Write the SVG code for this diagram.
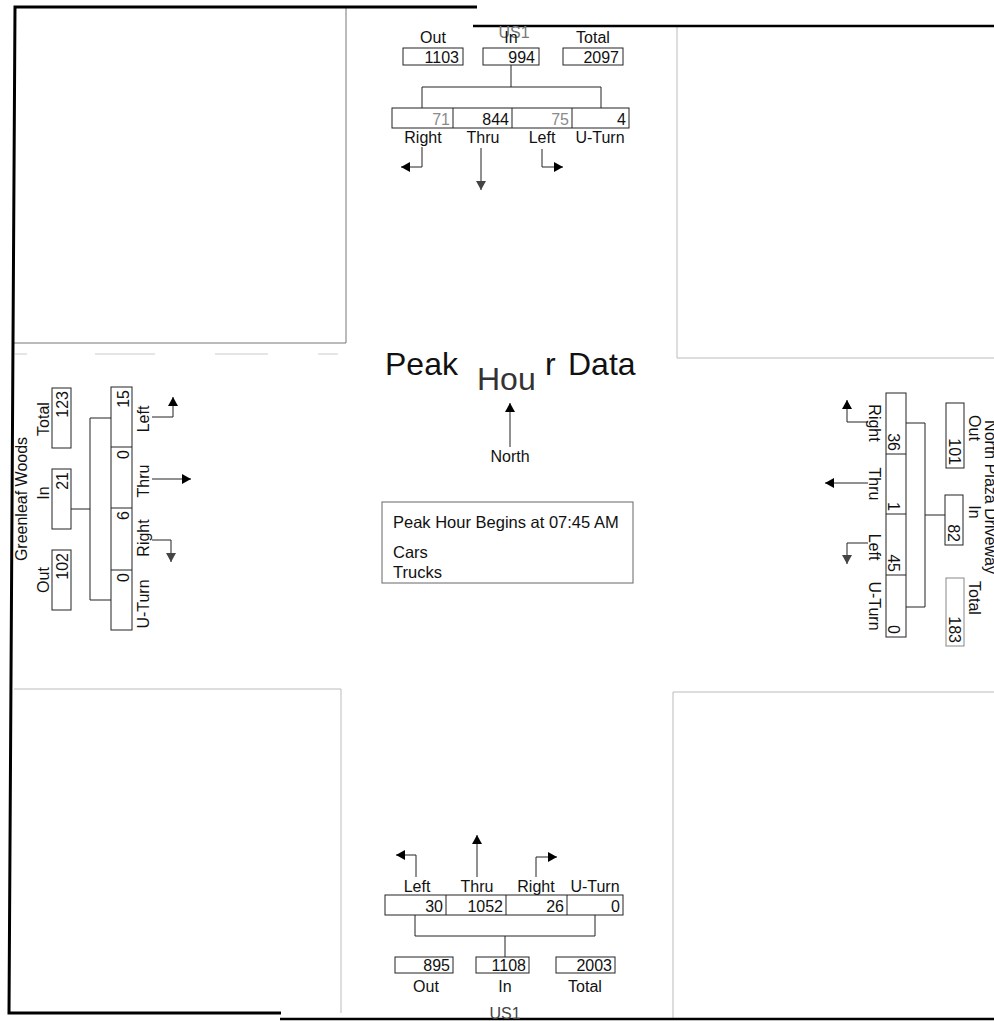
<svg xmlns="http://www.w3.org/2000/svg" width="994" height="1021" viewBox="0 0 994 1021">
<style>
.t{font-family:"Liberation Sans",Arial,Helvetica,sans-serif;font-size:16px;fill:#111}
.c{text-anchor:middle}
.e{text-anchor:end}
.g{fill:#8a8a8a}
.bx{fill:#fff;stroke:#222;stroke-width:1}
.ln{fill:none;stroke:#222;stroke-width:1}
.q{fill:none;stroke:#bbb;stroke-width:1}
.thick{fill:none;stroke:#000;stroke-width:3}
.big{font-size:32px}
</style>
<defs>
<marker id="ah" viewBox="0 0 9 10" refX="9" refY="5" markerWidth="9" markerHeight="10" markerUnits="userSpaceOnUse" orient="auto"><path d="M0,0 L9,5 L0,10 z" fill="#000"/></marker>
<marker id="ahg" viewBox="0 0 9 10" refX="9" refY="5" markerWidth="9" markerHeight="10" markerUnits="userSpaceOnUse" orient="auto"><path d="M0,0 L9,5 L0,10 z" fill="#444"/></marker>
</defs>
<rect width="994" height="1021" fill="#fff"/>

<g id="frame">
<path class="q" d="M346,7 V343 H14" style="stroke:#777"/>
<path class="q" d="M677,26 V358 H994"/>
<path class="q" d="M14,689 H341 V1013"/>
<path class="q" d="M994,692 H673 V1019"/>
<path class="q" d="M15,354 H27 M95,354 H155 M215,354 H268 M318,354 H338" style="stroke:#ccc"/>
<path class="thick" d="M477,7 H15 L9,1013 H281"/>
<path class="thick" d="M473,26 H994" style="stroke-width:2.5"/>
<path class="thick" d="M280,1019 H994" style="stroke-width:2.5"/>
</g>

<g id="north-approach">
<text class="t c g" x="514" y="38" style="fill:#777">US1</text>
<text class="t c" x="433" y="43">Out</text>
<text class="t c" x="511" y="43">In</text>
<text class="t c" x="593" y="43">Total</text>
<rect class="bx" x="403" y="48" width="60" height="17"/>
<rect class="bx" x="483" y="48" width="56" height="17"/>
<rect class="bx" x="563" y="48" width="60" height="17"/>
<text class="t e" x="459" y="63">1103</text>
<text class="t e" x="535" y="63">994</text>
<text class="t e" x="619" y="63">2097</text>
<rect class="bx" x="392" y="108" width="237" height="20"/>
<path class="ln" d="M453,108 V128 M512,108 V128 M572,108 V128"/>
<text class="t e g" x="450" y="125">71</text>
<text class="t e" x="509" y="125">844</text>
<text class="t e g" x="569" y="125">75</text>
<text class="t e" x="626" y="125">4</text>
<text class="t c" x="423" y="143">Right</text>
<text class="t c" x="483" y="143">Thru</text>
<text class="t c" x="542" y="143">Left</text>
<text class="t c" x="600" y="143">U-Turn</text>
</g>

<g id="west-approach">
<text class="t c" transform="translate(27,499) rotate(-90)">Greenleaf Woods</text>
<text class="t c" transform="translate(49,419) rotate(-90)">Total</text>
<text class="t c" transform="translate(49,493) rotate(-90)">In</text>
<text class="t c" transform="translate(49,580) rotate(-90)">Out</text>
<rect class="bx" x="52" y="388" width="19" height="60"/>
<rect class="bx" x="52" y="469" width="19" height="60"/>
<rect class="bx" x="52" y="550" width="19" height="60"/>
<text class="t e" transform="translate(68,391) rotate(-90)">123</text>
<text class="t e" transform="translate(68,472) rotate(-90)">21</text>
<text class="t e" transform="translate(68,553) rotate(-90)">102</text>
<rect class="bx" x="111" y="387" width="21" height="243"/>
<path class="ln" d="M111,447 H132 M111,508 H132 M111,570 H132"/>
<text class="t e" transform="translate(129,390) rotate(-90)">15</text>
<text class="t e" transform="translate(129,450) rotate(-90)">0</text>
<text class="t e" transform="translate(129,511) rotate(-90)">6</text>
<text class="t e" transform="translate(129,573) rotate(-90)">0</text>
<text class="t c" transform="translate(149,419) rotate(-90)">Left</text>
<text class="t c" transform="translate(149,481) rotate(-90)">Thru</text>
<text class="t c" transform="translate(149,538) rotate(-90)">Right</text>
<text class="t c" transform="translate(149,604) rotate(-90)">U-Turn</text>
</g>

<g id="east-approach">
<text class="t c" transform="translate(985,497) rotate(90)">North Plaza Driveway</text>
<text class="t c" transform="translate(969,428) rotate(90)">Out</text>
<text class="t c" transform="translate(969,512) rotate(90)">In</text>
<text class="t c" transform="translate(969,598) rotate(90)">Total</text>
<rect class="bx" x="946" y="403" width="18" height="65"/>
<rect class="bx" x="945" y="495" width="18" height="50"/>
<rect class="bx" x="946" y="578" width="18" height="68" style="stroke:#888"/>
<text class="t e" transform="translate(949,465) rotate(90)">101</text>
<text class="t e" transform="translate(948,542) rotate(90)">82</text>
<text class="t e" transform="translate(949,643) rotate(90)">183</text>
<rect class="bx" x="886" y="393" width="20" height="244"/>
<path class="ln" d="M886,454 H906 M886,514 H906 M886,575 H906"/>
<text class="t e" transform="translate(888,451) rotate(90)">36</text>
<text class="t e" transform="translate(888,511) rotate(90)">1</text>
<text class="t e" transform="translate(888,572) rotate(90)">45</text>
<text class="t e" transform="translate(888,634) rotate(90)">0</text>
<text class="t c" transform="translate(869,423) rotate(90)">Right</text>
<text class="t c" transform="translate(869,484) rotate(90)">Thru</text>
<text class="t c" transform="translate(869,547) rotate(90)">Left</text>
<text class="t c" transform="translate(869,606) rotate(90)">U-Turn</text>
</g>

<g id="south-approach">
<text class="t c" x="417" y="892">Left</text>
<text class="t c" x="477" y="892">Thru</text>
<text class="t c" x="536" y="892">Right</text>
<text class="t c" x="595" y="892">U-Turn</text>
<rect class="bx" x="385" y="895" width="238" height="20"/>
<path class="ln" d="M446,895 V915 M506,895 V915 M567,895 V915"/>
<text class="t e" x="443" y="912">30</text>
<text class="t e" x="503" y="912">1052</text>
<text class="t e" x="564" y="912">26</text>
<text class="t e" x="620" y="912">0</text>
<rect class="bx" x="395" y="957" width="58" height="16"/>
<rect class="bx" x="476" y="957" width="53" height="16"/>
<rect class="bx" x="556" y="957" width="59" height="16"/>
<text class="t e" x="450" y="971">895</text>
<text class="t e" x="526" y="971">1108</text>
<text class="t e" x="612" y="971">2003</text>
<text class="t c" x="426" y="992">Out</text>
<text class="t c" x="505" y="992">In</text>
<text class="t c" x="585" y="992">Total</text>
<text class="t c" x="505" y="1019" style="fill:#444">US1</text>
</g>

<g id="title">
<text class="t big" x="385" y="375">Peak</text>
<text class="t big" x="477" y="390" style="fill:#333">Hou</text>
<text class="t big" x="545" y="375">r</text>
<text class="t big" x="568" y="375">Data</text>
<text class="t c" x="510" y="462">North</text>
</g>

<g id="legend">
<rect x="382" y="502" width="251" height="81" fill="#fff" stroke="#666" stroke-width="1"/>
<text class="t" x="393" y="528" style="font-size:16.5px">Peak Hour Begins at 07:45 AM</text>
<text class="t" x="393" y="558" style="font-size:16.5px">Cars</text>
<text class="t" x="393" y="578" style="font-size:16.5px">Trucks</text>
</g>

<g id="connectors">
<path class="ln" d="M511,65 V87 M422,108 V87 H601 V108"/>
<path class="ln" d="M71,509 H90 M111,418 H90 V600 H111"/>
<path class="ln" d="M906,423 H925 V607 H906 M925,515 H945"/>
<path class="ln" d="M415,915 V936 H595 V915 M505,936 V957"/>
<path class="ln" d="M422,147 V167 H401" marker-end="url(#ah)"/>
<path class="ln" d="M481,148 V190" marker-end="url(#ahg)"/>
<path class="ln" d="M542,149 V167 H563" marker-end="url(#ah)"/>
<path class="ln" d="M152,417 H173 V397" marker-end="url(#ah)"/>
<path class="ln" d="M152,479 H191" marker-end="url(#ah)"/>
<path class="ln" d="M152,540 H171 V562" marker-end="url(#ahg)"/>
<path class="ln" d="M868,422 H847 V400" marker-end="url(#ah)"/>
<path class="ln" d="M868,483 H825" marker-end="url(#ah)"/>
<path class="ln" d="M868,543 H847 V564" marker-end="url(#ahg)"/>
<path class="ln" d="M416,877 V855 H396" marker-end="url(#ah)"/>
<path class="ln" d="M477,877 V835" marker-end="url(#ah)"/>
<path class="ln" d="M536,877 V857 H557" marker-end="url(#ah)"/>
<path class="ln" d="M510,447 V403" marker-end="url(#ah)"/>
</g>
</svg>
